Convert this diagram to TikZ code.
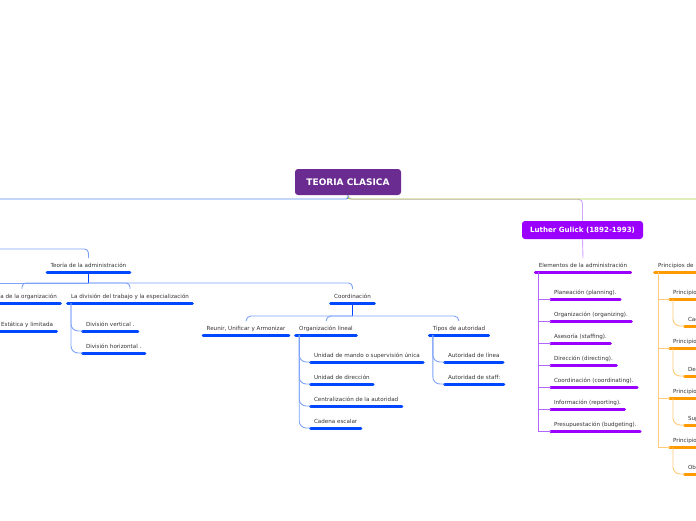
\documentclass[tikz,border=0pt]{standalone}
\usepackage{fontspec}
\setmainfont{DejaVu Sans}
\definecolor{textgray}{HTML}{333333}
\definecolor{barblue}{HTML}{0048FF}
\definecolor{lblue}{HTML}{7DA2F8}
\definecolor{mainblue}{HTML}{5B8DEF}
\definecolor{barpurple}{HTML}{9A00FF}
\definecolor{pconn}{HTML}{B266FF}
\definecolor{plight}{HTML}{D4A5FF}
\definecolor{barorange}{HTML}{FF9A00}
\definecolor{oconn}{HTML}{FFCA7A}
\definecolor{ygreen}{HTML}{A8D03A}
\definecolor{rootfill}{HTML}{6A2C91}
\definecolor{lutherfill}{HTML}{9B00FF}
\begin{document}
\begin{tikzpicture}[x=1pt,y=-1pt,
  txt/.style={font=\fontsize{5.6}{6.5}\selectfont, text=textgray, inner xsep=3.5pt,
    inner ysep=5pt, text height=4pt, text depth=0pt, outer sep=0pt, anchor=south west},
  itemb/.style={txt, append after command={(\tikzlastnode.south west) edge[draw=#1, line width=3pt, line cap=round] (\tikzlastnode.south east)}},
  bitem/.style={itemb=barblue},
  pitem/.style={itemb=barpurple},
  oitem/.style={itemb=barorange},
  topbox/.style={rounded corners=3pt, text=white, font=\bfseries, inner sep=0pt},
  lconn/.style={draw=lblue, line width=0.9pt},
  fan/.style={lconn, rounded corners=7pt},
]
\useasboundingbox (0,0) rectangle (696,520);
\clip (0,0) rectangle (696,520);

% top-level boxes
\node[topbox, fill=rootfill, minimum width=106pt, minimum height=26pt, font=\fontsize{9}{10}\selectfont\bfseries] (root) at (348,182) {TEORIA CLASICA};
\node[topbox, fill=lutherfill, minimum width=121pt, minimum height=18pt, font=\fontsize{7.1}{8}\selectfont\bfseries] (luther) at (582.5,230) {Luther Gulick (1892-1993)};

\coordinate (offL) at (-5,199);
\coordinate (offR) at (701,199);
\coordinate (offL2) at (-5,249);
\coordinate (offL3) at (-5,283);

% main connectors
\draw[plight, line width=0.9pt, rounded corners=4pt] (root.south) -- ++(0,4) -| (luther.north);
\draw[ygreen, line width=0.9pt, rounded corners=2pt] (root.south) |- (offR);
\draw[mainblue, line width=0.9pt, rounded corners=2pt] (root.south) |- (offL);

% left branch
\node[bitem, anchor=south] (teoria) at (88.5,272) {Teoría de la administración};
\draw[lconn, rounded corners=4pt] (offL2) -| (teoria.north);
\node[bitem, anchor=south] (teorg) at (22,303) {Teoría de la organización};
\node[bitem, anchor=south] (ladiv) at (130,303) {La división del trabajo y la especialización};
\node[bitem, anchor=south] (coord) at (352.5,303) {Coordinación};
\draw[barblue, line width=0.9pt] (teoria.south) -- ++(0,11) coordinate (tj);
\draw[lconn, rounded corners=4pt] (tj) -| (teorg.north);
\draw[lconn, rounded corners=4pt] (tj) -| (ladiv.north);
\draw[lconn, rounded corners=4pt] (tj) -| (coord.north);
\draw[lconn] (tj) -- (offL3);

\node[bitem, anchor=south east] (estat) at (56.5,331) {Estática y limitada};
\node[bitem] (divv) at (82.5,331) {División vertical .};
\node[bitem] (divh) at (82.5,353) {División horizontal .};
\draw[fan] ([xshift=3.5pt]ladiv.south west) |- (divv.south west);
\draw[fan] ([xshift=3.5pt]ladiv.south west) |- (divh.south west);

% coordinacion
\node[bitem, anchor=south] (reunir) at (246,335) {Reunir, Unificar y Armonizar};
\node[bitem, anchor=south] (orgl) at (326,335) {Organización lineal};
\node[bitem, anchor=south] (tipos) at (459,335) {Tipos de autoridad};
\draw[barblue, line width=0.9pt] (coord.south) -- ++(0,13) coordinate (cj);
\draw[lconn, rounded corners=5pt] (cj) -| (reunir.north);
\draw[lconn, rounded corners=5pt] (cj) -| (orgl.north);
\draw[lconn, rounded corners=5pt] (cj) -| (tipos.north);

\node[bitem] (u1) at (310.5,362) {Unidad de mando o supervisión única};
\node[bitem] (u2) at (310.5,384) {Unidad de dirección};
\node[bitem] (u3) at (310.5,406) {Centralización de la autoridad};
\node[bitem] (u4) at (310.5,428) {Cadena escalar};
\foreach \c in {u1,u2,u3,u4}
  \draw[fan] ([xshift=3.5pt]orgl.south west) |- (\c.south west);

\node[bitem] (a1) at (444.5,362) {Autoridad de línea};
\node[bitem] (a2) at (444.5,384) {Autoridad de staff:};
\foreach \c in {a1,a2}
  \draw[fan] ([xshift=3.5pt]tipos.south west) |- (\c.south west);

% Gulick
\node[pitem, anchor=south] (elem) at (583,272) {Elementos de la administración};
\draw[plight, line width=0.9pt] (luther.south) -- (elem.north);
\node[pitem] (e1) at (550.5,299) {Planeación (planning).};
\node[pitem] (e2) at (550.5,321) {Organización (organizing).};
\node[pitem] (e3) at (550.5,343) {Asesoría (staffing).};
\node[pitem] (e4) at (550.5,365) {Dirección (directing).};
\node[pitem] (e5) at (550.5,387) {Coordinación (coordinating).};
\node[pitem] (e6) at (550.5,409) {Información (reporting).};
\node[pitem] (e7) at (550.5,431) {Presupuestación (budgeting).};
\foreach \c in {e1,e2,e3,e4,e5,e6,e7}
  \draw[pconn, line width=0.9pt] ([xshift=3.5pt]elem.south west) |- (\c.south west);

% Principios
\node[oitem, text width=50pt, align=left] (princ) at (654.5,272) {Principios de l};
\node[oitem, text width=30pt, align=left] (p1) at (669.5,299) {Principio};
\node[oitem, text width=30pt, align=left] (p2) at (669.5,348) {Principio};
\node[oitem, text width=30pt, align=left] (p3) at (669.5,398) {Principio};
\node[oitem, text width=30pt, align=left] (p4) at (669.5,447) {Principio};
\node[oitem, text width=20pt, align=left] (s1) at (684.5,326) {Cad};
\node[oitem, text width=20pt, align=left] (s2) at (684.5,376) {Deb};
\node[oitem, text width=20pt, align=left] (s3) at (684.5,425) {Sup};
\node[oitem, text width=20pt, align=left] (s4) at (684.5,474) {Obl};
\foreach \c in {p1,p2,p3,p4}
  \draw[oconn, line width=0.9pt] ([xshift=3.5pt]princ.south west) |- (\c.south west);
\foreach \p/\s in {p1/s1,p2/s2,p3/s3,p4/s4}
  \draw[oconn, line width=0.9pt, rounded corners=7pt] ([xshift=3.5pt]\p.south west) |- (\s.south west);
\end{tikzpicture}
\end{document}
